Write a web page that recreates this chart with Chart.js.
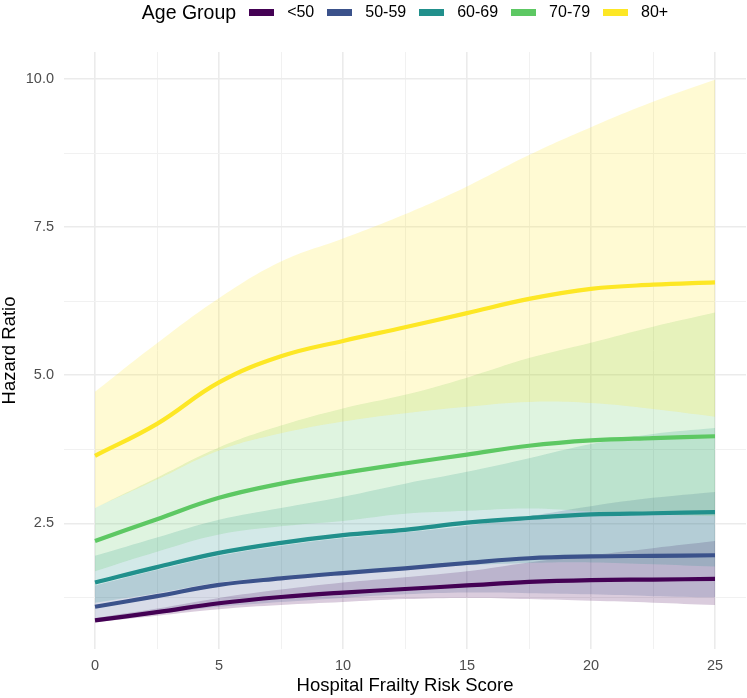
<!DOCTYPE html>
<html lang="en">
<head>
<meta charset="UTF-8">
<title>Hazard Ratio by Hospital Frailty Risk Score</title>
<style>
  body { margin: 0; background: #fff; font-family: "Liberation Sans", Arial, sans-serif; }
  .wrap { position: relative; width: 747px; height: 698px; }
  #legend {
    position: absolute; top: 0; left: 64px; width: 682px; height: 24px;
    display: flex; align-items: center; justify-content: center; color: #000;
  }
  #legend .title { font-size: 19.5px; margin-right: 13px; }
  #legend .key { width: 25px; height: 7px; margin-right: 13px; }
  #legend .lab { font-size: 16px; margin-right: 13px; }
  #legend .lab:last-child { margin-right: 0; }
</style>
</head>
<body>
<div class="wrap">
  <div id="legend"></div>
  <canvas id="hrChart" width="747" height="698"></canvas>
</div>
<script src="https://cdn.jsdelivr.net/npm/chart.js"></script>
<script>
// x values of the fitted curves
const riskScore = [0, 2.5, 5, 7.5, 10, 12.5, 15, 17.5, 20, 22.5, 25];
const ageGroups = ['<50', '50-59', '60-69', '70-79', '80+'];
const groupColors = ['#440154', '#3B528B', '#21908C', '#5DC863', '#FDE725'];

// hazard ratio (line) and confidence band per age group
const hrLt50 = [0.86, 1.00, 1.15, 1.255, 1.33, 1.39, 1.45, 1.51, 1.54, 1.55, 1.56];
const loLt50 = [0.83, 0.94, 1.05, 1.12, 1.17, 1.22, 1.24, 1.22, 1.19, 1.16, 1.12];
const hiLt50 = [0.90, 1.06, 1.24, 1.38, 1.50, 1.59, 1.69, 1.84, 1.96, 2.08, 2.20];

const hr50s = [1.09, 1.27, 1.46, 1.57, 1.66, 1.74, 1.83, 1.91, 1.94, 1.95, 1.96];
const lo50s = [0.85, 0.97, 1.09, 1.17, 1.24, 1.30, 1.33, 1.32, 1.30, 1.27, 1.25];
const hi50s = [1.45, 1.71, 1.95, 2.12, 2.25, 2.35, 2.46, 2.62, 2.79, 2.93, 3.03];

const hr60s = [1.50, 1.76, 2.00, 2.17, 2.30, 2.39, 2.51, 2.59, 2.65, 2.67, 2.69];
const lo60s = [1.16, 1.32, 1.50, 1.60, 1.67, 1.73, 1.79, 1.83, 1.84, 1.81, 1.77];
const hi60s = [1.95, 2.26, 2.56, 2.76, 2.95, 3.17, 3.37, 3.60, 3.84, 4.01, 4.11];

const hr70s = [2.20, 2.57, 2.93, 3.17, 3.35, 3.51, 3.66, 3.81, 3.90, 3.94, 3.97];
const lo70s = [1.69, 2.02, 2.31, 2.45, 2.54, 2.66, 2.71, 2.75, 2.70, 2.65, 2.62];
const hi70s = [2.76, 3.27, 3.78, 4.15, 4.44, 4.67, 4.96, 5.29, 5.55, 5.82, 6.06];

const hr80plus = [3.64, 4.18, 4.88, 5.32, 5.58, 5.81, 6.05, 6.29, 6.46, 6.53, 6.57];
const lo80plus = [2.76, 3.24, 3.73, 4.02, 4.22, 4.36, 4.47, 4.55, 4.53, 4.43, 4.30];
const hi80plus = [4.72, 5.54, 6.30, 6.92, 7.31, 7.72, 8.19, 8.72, 9.19, 9.62, 9.99];

// axis breaks
const xBreaks = [0, 5, 10, 15, 20, 25];
const xMinorBreaks = [2.5, 7.5, 12.5, 17.5, 22.5];
const yBreaks = [2.5, 5, 7.5, 10];
const yMinorBreaks = [1.25, 3.75, 6.25, 8.75];

const fontFamily = '"Liberation Sans", Arial, sans-serif';

const groups = [
    { hr: hrLt50, lo: loLt50, hi: hiLt50 },
    { hr: hr50s, lo: lo50s, hi: hi50s },
    { hr: hr60s, lo: lo60s, hi: hi60s },
    { hr: hr70s, lo: lo70s, hi: hi70s },
    { hr: hr80plus, lo: lo80plus, hi: hi80plus }
];

function toPoints(values) {
    return riskScore.map((x, i) => ({ x: x, y: values[i] }));
}

function withAlpha(hex, a) {
    const n = parseInt(hex.slice(1), 16);
    return `rgba(${(n >> 16) & 255}, ${(n >> 8) & 255}, ${n & 255}, ${a})`;
}

const datasets = [];

// ribbons: 80+ first so that <50 ends up painted first (filler goes in reverse)
for (let g = groups.length - 1; g >= 0; g--) {
    datasets.push({
        label: ageGroups[g] + ' lower',
        data: toPoints(groups[g].lo),
        borderWidth: 0,
        borderColor: 'transparent',
        pointRadius: 0,
        tension: 0.4,
        fill: false
    });
    datasets.push({
        label: ageGroups[g] + ' upper',
        data: toPoints(groups[g].hi),
        borderWidth: 0,
        borderColor: 'transparent',
        backgroundColor: withAlpha(groupColors[g], 0.2),
        pointRadius: 0,
        tension: 0.4,
        fill: '-1'
    });
}

// fitted lines
groups.forEach((grp, g) => {
    datasets.push({
        label: ageGroups[g],
        data: toPoints(grp.hr),
        borderColor: groupColors[g],
        borderWidth: 4.2,
        pointRadius: 0,
        tension: 0.4,
        fill: false
    });
});

// legend (html)
const legendEl = document.getElementById('legend');
legendEl.innerHTML = '<span class="title">Age Group</span>' +
    ageGroups.map((name, i) =>
        `<span class="key" style="background:${groupColors[i]}"></span><span class="lab">${name.replace('<', '&lt;')}</span>`
    ).join('');

function isMajor(value, breaks) {
    return breaks.some(b => Math.abs(b - value) < 1e-6);
}

new Chart(document.getElementById('hrChart'), {
    type: 'line',
    data: { datasets: datasets },
    options: {
        responsive: false,
        animation: false,
        events: [],
        layout: { padding: { top: 52, right: 1, bottom: 0, left: 0 } },
        plugins: {
            legend: { display: false },
            tooltip: { enabled: false },
            filler: { drawTime: 'beforeDatasetsDraw' }
        },
        scales: {
            x: {
                type: 'linear',
                min: -1.25,
                max: 26.25,
                afterBuildTicks: axis => {
                    axis.ticks = xBreaks.concat(xMinorBreaks).sort((a, b) => a - b).map(v => ({ value: v }));
                },
                afterFit: axis => { axis.height = 49; },
                ticks: {
                    autoSkip: false,
                    maxRotation: 0,
                    padding: 8,
                    color: '#4d4d4d',
                    font: { family: fontFamily, size: 14.5 },
                    callback: v => isMajor(v, xBreaks) ? String(v) : ''
                },
                grid: {
                    drawTicks: false,
                    color: ctx => isMajor(ctx.tick.value, xBreaks) ? '#ebebeb' : '#f1f1f1',
                    lineWidth: ctx => isMajor(ctx.tick.value, xBreaks) ? 1.6 : 1
                },
                border: { display: false },
                title: {
                    display: true,
                    text: 'Hospital Frailty Risk Score',
                    color: '#000',
                    font: { family: fontFamily, size: 18.5, lineHeight: 1 },
                    padding: { top: 0, bottom: 3 }
                }
            },
            y: {
                type: 'linear',
                min: 0.377,
                max: 10.46,
                afterBuildTicks: axis => {
                    axis.ticks = yBreaks.concat(yMinorBreaks).sort((a, b) => a - b).map(v => ({ value: v }));
                },
                afterFit: axis => { axis.width = 64; },
                ticks: {
                    autoSkip: false,
                    padding: 10,
                    color: '#4d4d4d',
                    font: { family: fontFamily, size: 14.5 },
                    callback: v => isMajor(v, yBreaks) ? v.toFixed(1) : ''
                },
                grid: {
                    drawTicks: false,
                    color: ctx => isMajor(ctx.tick.value, yBreaks) ? '#ebebeb' : '#f1f1f1',
                    lineWidth: ctx => isMajor(ctx.tick.value, yBreaks) ? 1.6 : 1
                },
                border: { display: false },
                title: {
                    display: true,
                    text: 'Hazard Ratio',
                    color: '#000',
                    font: { family: fontFamily, size: 18.5, lineHeight: 1 },
                    padding: { top: 1, bottom: 0 }
                }
            }
        }
    }
});
</script>
</body>
</html>
